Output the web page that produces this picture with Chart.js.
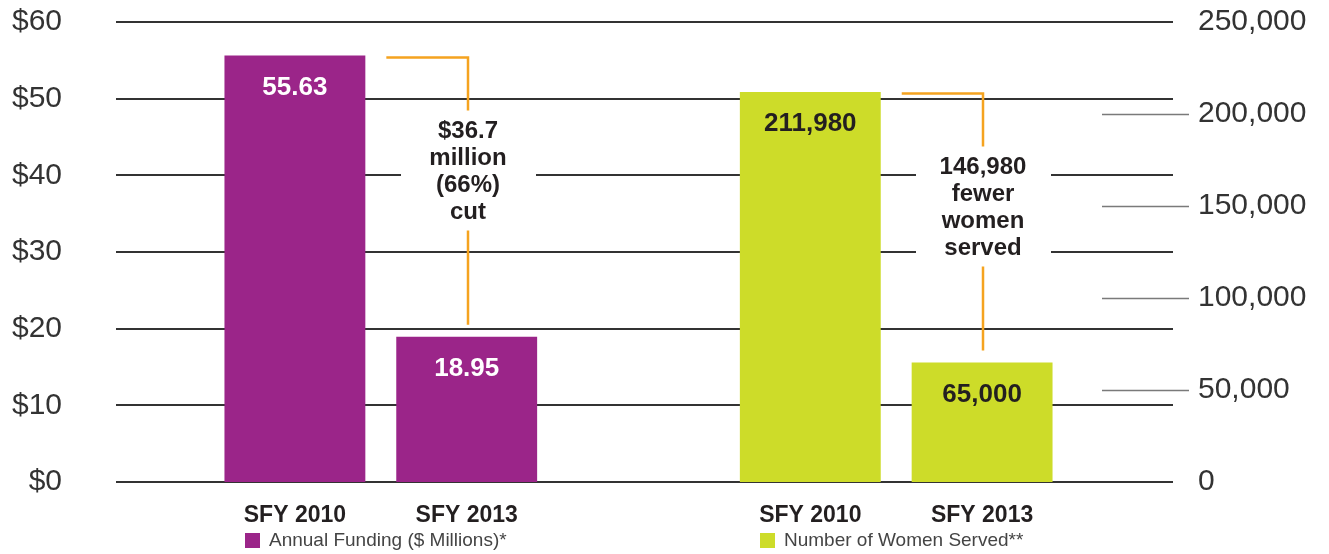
<!DOCTYPE html>
<html>
<head>
<meta charset="utf-8">
<script src="https://cdn.jsdelivr.net/npm/chart.js@4"></script>
<style>
  html, body { margin: 0; padding: 0; background: #fff; }
</style>
</head>
<body>
<canvas id="myChart" width="1329" height="554"></canvas>
<script>
var categories = ['SFY 2010', 'SFY 2013', '', 'SFY 2010', 'SFY 2013'];
var fundingMillions = [55.63, 18.95, null, null, null];
var womenServed = [null, null, null, 211980, 65000];
var seriesNames = ['Annual Funding ($ Millions)*', 'Number of Women Served**'];
var fundingNote = ['$36.7', 'million', '(66%)', 'cut'];
var womenNote = ['146,980', 'fewer', 'women', 'served'];

var PURPLE = '#9B2589';
var GREEN = '#CDDC29';
var ORANGE = '#F5A31F';
var FONT = "'Liberation Sans', Arial, Helvetica, sans-serif";

Chart.defaults.font.family = FONT;

// horizontal rules wider than the plot area, plus short right-axis ticks
var gridLines = {
  id: 'gridLines',
  beforeDatasetsDraw: function(chart) {
    var ctx = chart.ctx, area = chart.chartArea;
    var y = chart.scales.y, y1 = chart.scales.y1;
    ctx.save();
    ctx.strokeStyle = '#333';
    ctx.lineWidth = 2;
    y.ticks.forEach(function(t) {
      var py = Math.round(y.getPixelForValue(t.value));
      ctx.beginPath();
      ctx.moveTo(area.left - 93, py);
      ctx.lineTo(area.right + 105, py);
      ctx.stroke();
    });
    ctx.strokeStyle = '#7a7a7a';
    ctx.lineWidth = 1.5;
    y1.ticks.forEach(function(t) {
      if (t.value === y1.min || t.value === y1.max) return;
      var py = Math.round(y1.getPixelForValue(t.value)) + 0.5;
      ctx.beginPath();
      ctx.moveTo(area.right + 34, py);
      ctx.lineTo(area.right + 121, py);
      ctx.stroke();
    });
    ctx.restore();
  }
};

function drawNote(ctx, barA, barB, lines) {
  var xv = Math.round(barB.x) + 1;
  var yTop = Math.round(barA.y) + 1.5;
  var first = yTop + 74;
  ctx.save();
  // white box behind the text hides the rules
  ctx.fillStyle = '#fff';
  ctx.fillRect(xv - 67, first - 22, 135, 120);
  ctx.strokeStyle = ORANGE;
  ctx.lineWidth = 2.5;
  ctx.beginPath();
  ctx.moveTo(barA.x + barA.width / 2 + 21, yTop);
  ctx.lineTo(xv, yTop);
  ctx.lineTo(xv, yTop + 53);
  ctx.moveTo(xv, first + 99);
  ctx.lineTo(xv, barB.y - 12);
  ctx.stroke();
  ctx.fillStyle = '#231f20';
  ctx.font = 'bold 24px ' + FONT;
  ctx.textAlign = 'center';
  ctx.textBaseline = 'middle';
  lines.forEach(function(s, i) {
    ctx.fillText(s, xv, first + i * 27);
  });
  ctx.restore();
}

var extras = {
  id: 'extras',
  afterDatasetsDraw: function(chart) {
    var ctx = chart.ctx;
    var m0 = chart.getDatasetMeta(0), m1 = chart.getDatasetMeta(1);
    ctx.save();
    ctx.font = 'bold 26px ' + FONT;
    ctx.textAlign = 'center';
    ctx.textBaseline = 'middle';
    fundingMillions.forEach(function(v, i) {
      if (v == null) return;
      var b = m0.data[i];
      ctx.fillStyle = '#fff';
      ctx.fillText(v.toFixed(2), b.x, b.y + 32);
    });
    womenServed.forEach(function(v, i) {
      if (v == null) return;
      var b = m1.data[i];
      ctx.fillStyle = '#231f20';
      ctx.fillText(v.toLocaleString('en-US'), b.x, b.y + 32);
    });
    ctx.restore();

    drawNote(ctx, m0.data[0], m0.data[1], fundingNote);
    drawNote(ctx, m1.data[3], m1.data[4], womenNote);

    // legend under each pair
    var x = chart.scales.x;
    var spots = [[0, PURPLE], [3, GREEN]];
    ctx.save();
    ctx.font = '19px ' + FONT;
    ctx.textBaseline = 'middle';
    ctx.textAlign = 'left';
    spots.forEach(function(s, i) {
      var lx = Math.round(x.getPixelForValue(s[0])) - 50;
      ctx.fillStyle = s[1];
      ctx.fillRect(lx, 533, 15, 15);
      ctx.fillStyle = '#444';
      ctx.fillText(seriesNames[i], lx + 24, 541);
    });
    ctx.restore();
  }
};

function fitSide(width) {
  return function(s) {
    s.width = width;
    s.paddingTop = 16;
    s.paddingBottom = 16;
  };
}

var ctx = document.getElementById('myChart').getContext('2d');
var myChart = new Chart(ctx, {
  type: 'bar',
  data: {
    labels: categories,
    datasets: [{
      label: seriesNames[0],
      data: fundingMillions,
      backgroundColor: PURPLE,
      yAxisID: 'y',
      grouped: false,
      barPercentage: 0.82,
      categoryPercentage: 1
    }, {
      label: seriesNames[1],
      data: womenServed,
      backgroundColor: GREEN,
      yAxisID: 'y1',
      grouped: false,
      barPercentage: 0.82,
      categoryPercentage: 1
    }]
  },
  options: {
    responsive: false,
    animation: false,
    layout: { padding: { top: 22, left: 0, right: 0, bottom: 0 } },
    plugins: {
      legend: { display: false },
      tooltip: { enabled: false }
    },
    scales: {
      x: {
        offset: true,
        grid: { display: false, drawTicks: false },
        border: { display: false },
        ticks: {
          color: '#231f20',
          font: { size: 23, weight: 'bold' },
          padding: 20,
          maxRotation: 0,
          autoSkip: false
        },
        afterFit: function(s) { s.height = 72; }
      },
      y: {
        position: 'left',
        min: 0,
        max: 60,
        grid: { display: false, drawTicks: false },
        border: { display: false },
        ticks: {
          stepSize: 10,
          color: '#333',
          font: { size: 30 },
          padding: 147,
          callback: function(v) { return '$' + v; }
        },
        afterFit: fitSide(209)
      },
      y1: {
        position: 'right',
        min: 0,
        max: 250000,
        grid: { display: false, drawTicks: false },
        border: { display: false },
        ticks: {
          stepSize: 50000,
          color: '#333',
          font: { size: 30 },
          padding: 130,
          callback: function(v) { return v.toLocaleString('en-US'); }
        },
        afterFit: fitSide(261)
      }
    }
  },
  plugins: [gridLines, extras]
});
</script>
</body>
</html>
